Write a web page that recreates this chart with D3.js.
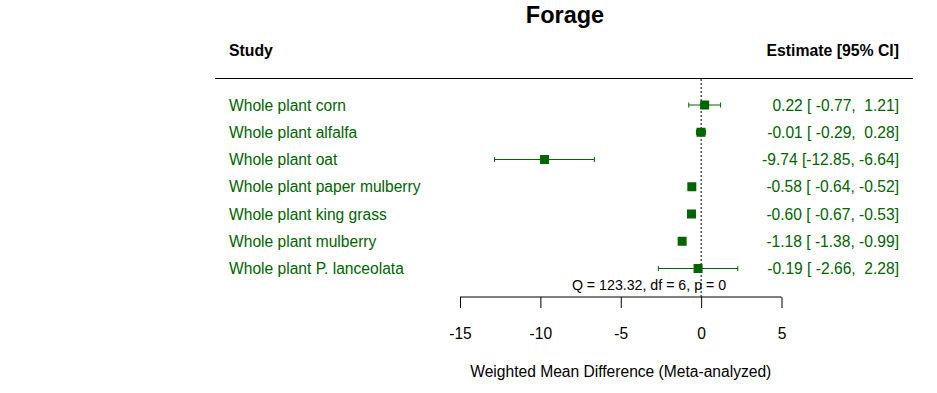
<!DOCTYPE html>
<html>
<head>
<meta charset="utf-8">
<script src="https://cdn.jsdelivr.net/npm/d3@7"></script>
<style>
  body { margin: 0; background: #fff; }
  text { font-family: "Liberation Sans", Arial, sans-serif; }
</style>
</head>
<body>
<div id="chart"></div>
<script>
var studies = ["Whole plant corn", "Whole plant alfalfa", "Whole plant oat",
  "Whole plant paper mulberry", "Whole plant king grass", "Whole plant mulberry",
  "Whole plant P. lanceolata"];
var estimates = [0.22, -0.01, -9.74, -0.58, -0.60, -1.18, -0.19];
var lower = [-0.77, -0.29, -12.85, -0.64, -0.67, -1.38, -2.66];
var upper = [1.21, 0.28, -6.64, -0.52, -0.53, -0.99, 2.28];
var annotations = ["0.22 [ -0.77,  1.21]", "-0.01 [ -0.29,  0.28]", "-9.74 [-12.85, -6.64]",
  "-0.58 [ -0.64, -0.52]", "-0.60 [ -0.67, -0.53]", "-1.18 [ -1.38, -0.99]",
  "-0.19 [ -2.66,  2.28]"];
var xTicks = [-15, -10, -5, 0, 5];
var hetText = "Q = 123.32, df = 6, p = 0";

var width = 937, height = 393;
var green = "#006400";
var fs = "15.6px";

var svg = d3.select("#chart").append("svg")
  .attr("width", width)
  .attr("height", height);

var x = d3.scaleLinear().domain([-15, 5]).range([460, 781.5]);
var y = d3.scaleLinear().domain([0, studies.length - 1]).range([105, 268.5]);

// title and headers
svg.append("text")
  .attr("x", 565).attr("y", 23)
  .attr("text-anchor", "middle")
  .style("font-size", "23.5px").style("font-weight", "bold")
  .text("Forage");

svg.append("text")
  .attr("x", 229).attr("y", 56)
  .style("font-size", "15.8px").style("font-weight", "bold")
  .text("Study");

svg.append("text")
  .attr("x", 899).attr("y", 56)
  .attr("text-anchor", "end")
  .style("font-size", "15.8px").style("font-weight", "bold")
  .text("Estimate [95% CI]");

svg.append("line")
  .attr("x1", 215).attr("x2", 913)
  .attr("y1", 78.5).attr("y2", 78.5)
  .attr("stroke", "#000").attr("stroke-width", 1.2);

// reference line at zero
svg.append("line")
  .attr("x1", x(0)).attr("x2", x(0))
  .attr("y1", 79).attr("y2", 297)
  .attr("stroke", "#000")
  .attr("stroke-dasharray", "2,2");

var rows = svg.append("g").selectAll("g")
  .data(studies)
  .enter().append("g");

rows.append("text")
  .attr("x", 229)
  .attr("y", function(d, i){ return y(i) + 5.5; })
  .attr("fill", green)
  .style("font-size", fs)
  .text(function(d){ return d; });

rows.append("text")
  .attr("x", 899)
  .attr("y", function(d, i){ return y(i) + 5.5; })
  .attr("text-anchor", "end")
  .attr("fill", green)
  .style("font-size", fs)
  .style("white-space", "pre")
  .attr("xml:space", "preserve")
  .text(function(d, i){ return annotations[i]; });

// CI lines with end caps
rows.append("line")
  .attr("x1", function(d, i){ return x(lower[i]); })
  .attr("x2", function(d, i){ return x(upper[i]); })
  .attr("y1", function(d, i){ return y(i); })
  .attr("y2", function(d, i){ return y(i); })
  .attr("stroke", green);

[lower, upper].forEach(function(arr){
  rows.append("line")
    .attr("x1", function(d, i){ return x(arr[i]); })
    .attr("x2", function(d, i){ return x(arr[i]); })
    .attr("y1", function(d, i){ return y(i) - 2.5; })
    .attr("y2", function(d, i){ return y(i) + 2.5; })
    .attr("stroke", green);
});

rows.append("rect")
  .attr("x", function(d, i){ return x(estimates[i]) - 4.5; })
  .attr("y", function(d, i){ return y(i) - 4.5; })
  .attr("width", 9).attr("height", 9)
  .attr("fill", green);

// heterogeneity text
svg.append("text")
  .attr("x", 649).attr("y", 290)
  .attr("text-anchor", "middle")
  .style("font-size", "14.2px")
  .text(hetText);

// x axis
var axis = d3.axisBottom(x).tickValues(xTicks).tickSize(11).tickPadding(20)
  .tickFormat(function(d){ return d; });

var gx = svg.append("g")
  .attr("transform", "translate(0,297)")
  .call(axis);
gx.select(".domain").attr("d", "M" + x(-15) + ",0H" + x(5));
gx.selectAll("text").style("font-size", fs).attr("fill", "#000");
gx.selectAll("line, path").attr("stroke", "#000");

svg.append("text")
  .attr("x", x(-5)).attr("y", 377)
  .attr("text-anchor", "middle")
  .style("font-size", fs)
  .text("Weighted Mean Difference (Meta-analyzed)");
</script>
</body>
</html>
